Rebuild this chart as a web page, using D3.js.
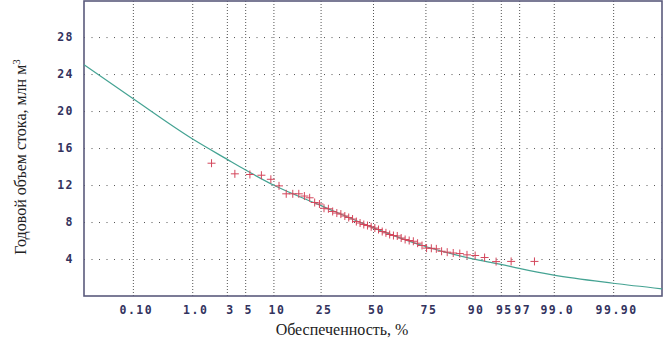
<!DOCTYPE html>
<html>
<head>
<meta charset="utf-8">
<script src="https://cdn.jsdelivr.net/npm/d3@7"></script>
<style>
  body { margin: 0; background: #fff; }
  .tick text { font-family: "DejaVu Sans Mono", monospace; font-weight: bold; font-size: 11.5px; fill: #33335e; letter-spacing: 1.5px; }
  .ttl { font-family: "Liberation Serif", "DejaVu Serif", serif; font-size: 16px; fill: #222; }
</style>
</head>
<body>
<svg id="chart" width="664" height="341"></svg>
<script>
// probability ticks (%) and how the source prints them
var probTicks = [0.1, 1, 3, 5, 10, 25, 50, 75, 90, 95, 97, 99, 99.9];
var probLabels = ["0.10", "1.0", "3", "5", "10", "25", "50", "75", "90", "95", "97", "99.0", "99.90"];
var yTicks = [4, 8, 12, 16, 20, 24, 28];

// observed annual runoff, sorted descending (plotted at m/(n+1))
var observed = [14.36, 13.21, 13.14, 13.06, 12.62, 11.91, 11.05, 11.05, 11.05, 10.81,
                10.62, 10.11, 9.95, 9.49, 9.43, 9.14, 8.97, 8.86, 8.65, 8.49,
                8.32, 8.05, 7.89, 7.73, 7.62, 7.48, 7.35, 7.19, 6.97, 6.83,
                6.65, 6.54, 6.49, 6.27, 6.11, 6.00, 5.92, 5.71, 5.46, 5.18,
                5.16, 5.10, 4.84, 4.74, 4.65, 4.59, 4.45, 4.38, 4.16, 3.72,
                3.74, 3.74];

// fitted supply curve (probability %, value)
var curveP = [0.01, 0.1, 1, 3, 5, 10, 25, 50, 75, 90, 95, 97, 99, 99.9, 99.99];
var curveV = [25.0, 21.35, 17.0, 14.8, 13.65, 12.0, 9.8, 7.4, 5.35, 4.02, 3.42, 2.98, 2.25, 1.38, 0.78];

// inverse normal CDF (Acklam) -> probability paper
function probit(p) {
  var a = [-39.69683028665376, 220.9460984245205, -275.9285104469687, 138.3577518672690, -30.66479806614716, 2.506628277459239];
  var b = [-54.47609879822406, 161.5858368580409, -155.6989798598866, 66.80131188771972, -13.28068155288572];
  var c = [-0.007784894002430293, -0.3223964580411365, -2.400758277161838, -2.549732539343734, 4.374664141464968, 2.938163982698783];
  var d = [0.007784695709041462, 0.3224671290700398, 2.445134137142996, 3.754408661907416];
  var q, r;
  if (p < 0.02425) {
    q = Math.sqrt(-2 * Math.log(p));
    return (((((c[0]*q+c[1])*q+c[2])*q+c[3])*q+c[4])*q+c[5]) / ((((d[0]*q+d[1])*q+d[2])*q+d[3])*q+1);
  } else if (p > 1 - 0.02425) {
    q = Math.sqrt(-2 * Math.log(1 - p));
    return -(((((c[0]*q+c[1])*q+c[2])*q+c[3])*q+c[4])*q+c[5]) / ((((d[0]*q+d[1])*q+d[2])*q+d[3])*q+1);
  }
  q = p - 0.5; r = q * q;
  return (((((a[0]*r+a[1])*r+a[2])*r+a[3])*r+a[4])*r+a[5])*q / (((((b[0]*r+b[1])*r+b[2])*r+b[3])*r+b[4])*r+1);
}

var mLeft = 84, mRight = 662, mTop = 1, mBottom = 296;
var svg = d3.select("#chart");

var x = d3.scaleLinear().domain([probit(0.0001), probit(0.9999)]).range([mLeft, mRight]);
var y = d3.scaleLinear().domain([0, 31.9]).range([mBottom, mTop]);
var px = p => x(probit(p / 100));

// grid + labels via axes
var gx = svg.append("g").attr("transform", "translate(0," + mBottom + ")")
  .call(d3.axisBottom(x)
    .tickValues(probTicks.map(p => probit(p / 100)))
    .tickFormat((d, i) => probLabels[i])
    .tickSize(-(mBottom - mTop))
    .tickPadding(10));
gx.select(".domain").remove();
gx.selectAll(".tick line").attr("stroke", "#555").attr("stroke-dasharray", "1,2");
gx.selectAll(".tick text").attr("dx", 3);

var gy = svg.append("g").attr("transform", "translate(" + mLeft + ",0)")
  .call(d3.axisLeft(y)
    .tickValues(yTicks)
    .tickSize(-(mRight - mLeft))
    .tickPadding(10));
gy.select(".domain").remove();
gy.selectAll(".tick line").attr("stroke", "#555").attr("stroke-dasharray", "1,6.5");

// frame
svg.append("rect")
  .attr("x", mLeft).attr("y", mTop)
  .attr("width", mRight - mLeft).attr("height", mBottom - mTop)
  .attr("fill", "none").attr("stroke", "#5a5a7c").attr("stroke-width", 1.6);

// fitted curve
var line = d3.line()
  .x((d, i) => px(curveP[i]))
  .y(d => y(d))
  .curve(d3.curveMonotoneX);
svg.append("path")
  .datum(curveV)
  .attr("d", line)
  .attr("fill", "none")
  .attr("stroke", "#45a393")
  .attr("stroke-width", 1.2);

// observed points as "+"
var n = observed.length;
svg.append("g").selectAll("path")
  .data(observed)
  .enter().append("path")
  .attr("transform", (d, i) => "translate(" + px((i + 1) / (n + 1) * 100) + "," + y(d) + ")")
  .attr("d", "M-4,0H4M0,-4V4")
  .attr("stroke", "#d4475c")
  .attr("stroke-width", 1);

// titles
svg.append("text").attr("class", "ttl")
  .attr("x", 342).attr("y", 335)
  .attr("text-anchor", "middle")
  .text("Обеспеченность, %");

var yt = svg.append("text").attr("class", "ttl")
  .attr("transform", "translate(26,157) rotate(-90)")
  .attr("text-anchor", "middle");
yt.append("tspan").text("Годовой объем стока, млн м");
yt.append("tspan").attr("dy", -6).attr("font-size", 11).text("3");
</script>
</body>
</html>
